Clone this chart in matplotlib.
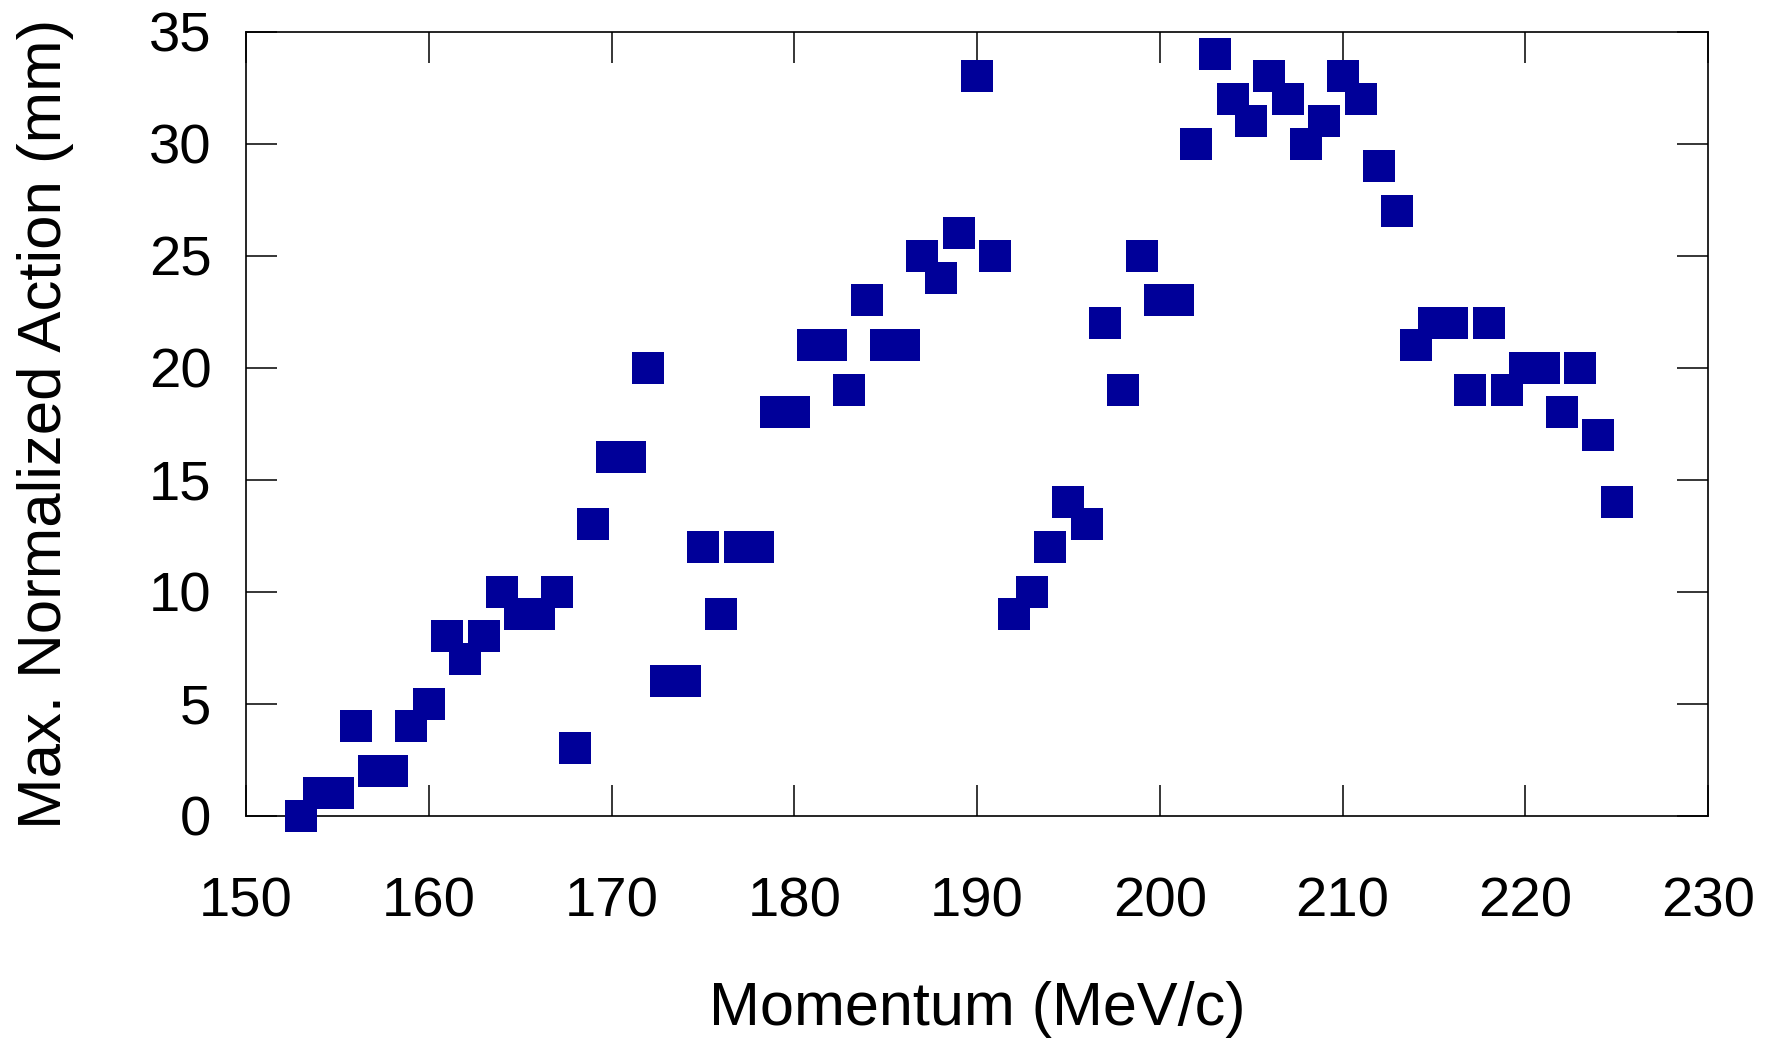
import numpy as np
import matplotlib
matplotlib.use("Agg")
import matplotlib.pyplot as plt

plt.rcParams['font.family'] = ['Liberation Sans', 'DejaVu Sans']

# momentum (MeV/c) and max. normalized action (mm)
momentum = list(range(153, 226))
action = [0, 1, 1, 4, 2, 2, 4, 5, 8, 7,
          8, 10, 9, 9, 10, 3, 13, 16, 16, 20,
          6, 6, 12, 9, 12, 12, 18, 18, 21, 21,
          19, 23, 21, 21, 25, 24, 26, 33, 25, 9,
          10, 12, 14, 13, 22, 19, 25, 23, 23, 30,
          34, 32, 31, 33, 32, 30, 31, 33, 32, 29,
          27, 21, 22, 22, 19, 22, 19, 20, 20, 18,
          20, 17, 14]

x_ticks = [150, 160, 170, 180, 190, 200, 210, 220, 230]
y_ticks = [0, 5, 10, 15, 20, 25, 30, 35]

fig = plt.figure(figsize=(17.71, 10.41), dpi=100)
ax = fig.add_axes([0.139, 0.2166, 0.9644 - 0.139, 0.9696 - 0.2166])

ax.plot(momentum, action, linestyle='none', marker='s', markersize=22.8,
        color='#000099', markeredgewidth=0, clip_on=False, zorder=3)

ax.set_xlim(150, 230)
ax.set_ylim(0, 35)
ax.set_xticks(x_ticks)
ax.set_yticks(y_ticks)

ax.tick_params(axis='both', which='major', direction='in', length=22, width=1.1,
               top=True, right=True, labelsize=40.5)
ax.tick_params(axis='x', pad=44)
ax.tick_params(axis='y', pad=25)
for s in ax.spines.values():
    s.set_linewidth(1.2)

ax.set_xlabel("Momentum (MeV/c)", fontsize=44)
ax.set_ylabel("Max. Normalized Action (mm)", fontsize=44.5)
ax.xaxis.set_label_coords(0.5, -0.247)
ax.xaxis.label.set_va('center')
ax.yaxis.set_label_coords(-0.1376, 0.5)
ax.yaxis.label.set_va('center')

fig.savefig("out.png", dpi=100)
